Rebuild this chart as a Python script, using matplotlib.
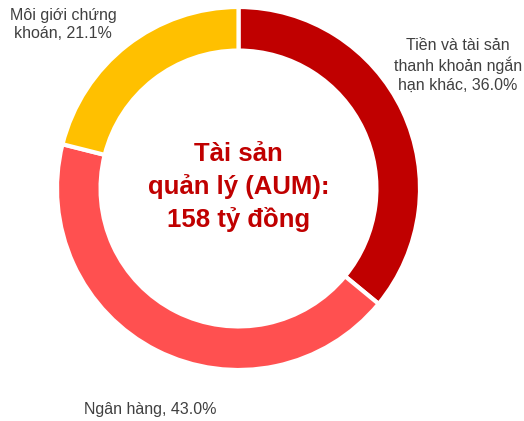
import matplotlib.pyplot as plt

# Dữ liệu
names = ['Tiền và tài sản\nthanh khoản ngắn\nhạn khác', 'Ngân hàng', 'Môi giới chứng\nkhoán']
values = [36.0, 43.0, 21.1]
colors = ['#C00000', '#FF5050', '#FFC000']
label_pos = [(1.21, 0.68), (-0.484, -1.215), (-0.967, 0.905)]
center_text = 'Tài sản\nquản lý (AUM):\n158 tỷ đồng'

plt.rcParams['font.family'] = ['Liberation Sans', 'DejaVu Sans']

fig = plt.figure(figsize=(5.24, 4.21), dpi=100)
ax = fig.add_axes([57/524, 51/421, 363/524, 363/421])

ax.pie(values, colors=colors, startangle=90, counterclock=False, radius=1,
       wedgeprops=dict(width=0.24, edgecolor='white', linewidth=3))

for name, v, (x, y) in zip(names, values, label_pos):
    ax.text(x, y, f'{name}, {v:.1f}%', ha='center', va='center',
            fontsize=11.5, color='#404040', linespacing=1.27, clip_on=False)

ax.text(0, 0.01, center_text, ha='center', va='center', fontsize=18.5,
        fontweight='bold', color='#C00000', linespacing=1.4)

ax.set_xlim(-1, 1)
ax.set_ylim(-1, 1)
ax.set_aspect('equal')
ax.axis('off')

fig.savefig('out.png', dpi=100)
